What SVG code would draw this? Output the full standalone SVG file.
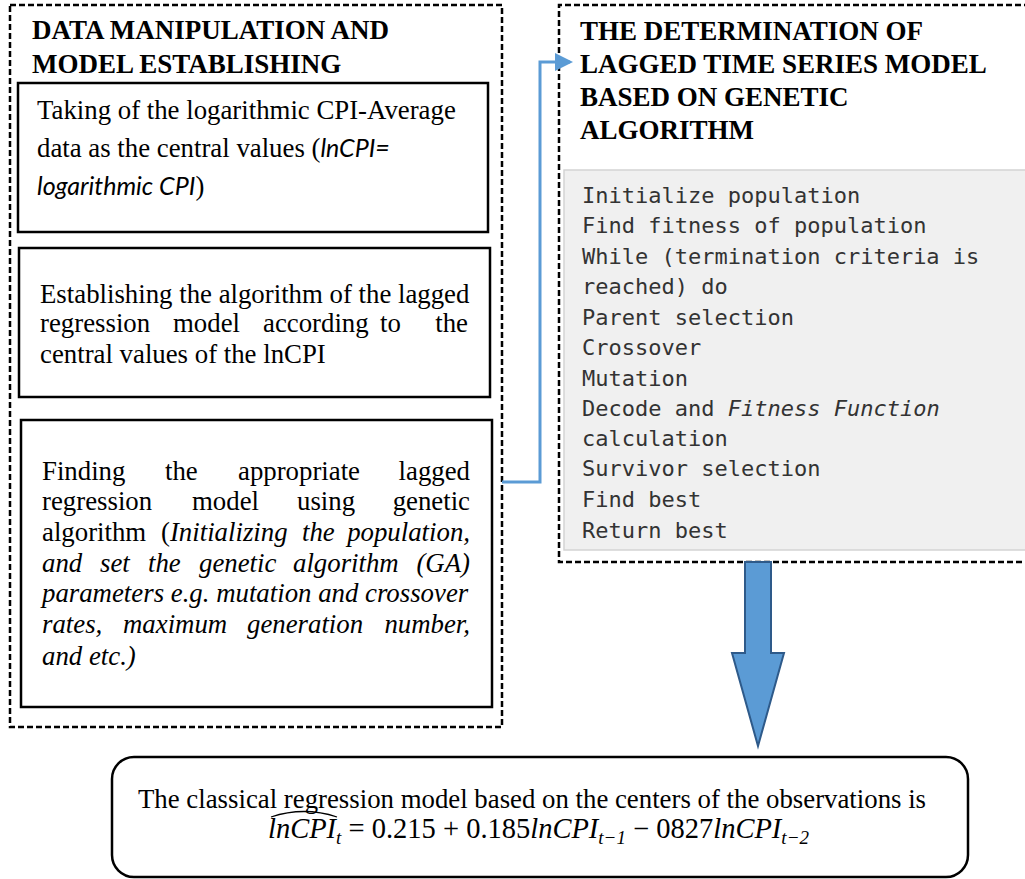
<svg xmlns="http://www.w3.org/2000/svg" width="1025" height="879" viewBox="0 0 1025 879">
<style>
.dash{fill:none;stroke:#000;stroke-width:2.5;stroke-dasharray:6 3}
.box{fill:#fff;stroke:#000;stroke-width:2.5}
.hd{font-family:"Liberation Serif",serif;font-weight:bold;font-size:27px;fill:#000}
.tx{font-family:"Liberation Serif",serif;font-size:26.8px;fill:#000}
.it{font-style:italic}
.sans{font-family:Lato,"Liberation Sans",sans-serif;font-style:italic;font-size:25px}
.code{font-family:"DejaVu Sans Mono",monospace;font-size:22px;fill:#333}
.eq{font-family:"Liberation Serif",serif;font-size:28.5px;fill:#000}
</style>
<defs>
<marker id="ah" markerWidth="6" markerHeight="6" refX="5" refY="3" orient="auto" markerUnits="strokeWidth">
<path d="M0,0 L6,3 L0,6 z" fill="#5b9bd5"/>
</marker>
</defs>
<rect width="1025" height="879" fill="#fff"/>

<g id="left-group">
<rect class="dash" x="10" y="5" width="492" height="722"/>
<text class="hd" x="32" y="39">DATA MANIPULATION AND</text>
<text class="hd" x="32" y="73">MODEL ESTABLISHING</text>
</g>

<g id="node-taking">
<rect class="box" x="18" y="83" width="470" height="149"/>
<text class="tx" x="37" y="119">Taking of the logarithmic CPI-Average</text>
<text class="tx" x="37" y="157">data as the central values (<tspan class="sans">lnCPI=</tspan></text>
<text class="tx" x="37" y="195"><tspan class="sans">logarithmic CPI</tspan>)</text>
</g>

<g id="node-establishing">
<rect class="box" x="19" y="248" width="471" height="149"/>
<text class="tx" x="40" y="303">Establishing the algorithm of the lagged</text>
<text class="tx" y="332"><tspan x="40">regression</tspan><tspan x="173">model</tspan><tspan x="263">according</tspan><tspan x="380">to</tspan></text>
<text class="tx" x="468" y="332" text-anchor="end">the</text>
<text class="tx" x="40" y="363">central values of the lnCPI</text>
</g>

<g id="node-finding">
<rect class="box" x="21" y="420" width="471" height="287"/>
<text class="tx" y="480"><tspan x="42">Finding</tspan><tspan x="165">the</tspan><tspan x="238">appropriate</tspan></text>
<text class="tx" x="470" y="480" text-anchor="end">lagged</text>
<text class="tx" y="510"><tspan x="42">regression</tspan><tspan x="192">model</tspan><tspan x="297">using</tspan></text>
<text class="tx" x="470" y="510" text-anchor="end">genetic</text>
<text class="tx" y="541"><tspan x="42">algorithm</tspan><tspan x="161">(</tspan><tspan class="it">Initializing</tspan><tspan class="it" x="302">the</tspan></text>
<text class="tx it" x="470" y="541" text-anchor="end">population,</text>
<text class="tx it" y="572"><tspan x="42">and</tspan><tspan x="100">set</tspan><tspan x="148">the</tspan><tspan x="199">genetic</tspan><tspan x="293">algorithm</tspan></text>
<text class="tx it" x="470" y="572" text-anchor="end">(GA)</text>
<text class="tx it" x="42" y="602">parameters e.g. mutation and crossover</text>
<text class="tx it" y="633"><tspan x="42">rates,</tspan><tspan x="123">maximum</tspan><tspan x="247">generation</tspan></text>
<text class="tx it" x="470" y="633" text-anchor="end">number,</text>
<text class="tx it" x="42" y="665">and etc.)</text>
</g>

<g id="right-group">
<path class="dash" d="M1030,5 H559 V562 H1030"/>
<text class="hd" x="580" y="40">THE DETERMINATION OF</text>
<text class="hd" x="580" y="73">LAGGED TIME SERIES MODEL</text>
<text class="hd" x="580" y="106">BASED ON GENETIC</text>
<text class="hd" x="580" y="139">ALGORITHM</text>
</g>

<g id="node-pseudocode">
<rect x="564" y="170" width="470" height="380" fill="#f0f0f0" stroke="#d4d4d4" stroke-width="1.5"/>
<text class="code" x="582" y="203">Initialize population</text>
<text class="code" x="582" y="233">Find fitness of population</text>
<text class="code" x="582" y="264">While (termination criteria is</text>
<text class="code" x="582" y="294">reached) do</text>
<text class="code" x="582" y="325">Parent selection</text>
<text class="code" x="582" y="355">Crossover</text>
<text class="code" x="582" y="386">Mutation</text>
<text class="code" x="582" y="416">Decode and <tspan font-style="italic">Fitness Function</tspan></text>
<text class="code" x="582" y="446">calculation</text>
<text class="code" x="582" y="476">Survivor selection</text>
<text class="code" x="582" y="507">Find best</text>
<text class="code" x="582" y="538">Return best</text>
</g>

<g id="node-result">
<rect x="112" y="757" width="856" height="120" rx="22" ry="22" fill="#fff" stroke="#000" stroke-width="2.5"/>
<text class="tx" x="138" y="808">The classical regression model based on the centers of the observations is</text>
<text class="eq" x="268" y="838"><tspan class="it">lnCPI</tspan><tspan class="it" font-size="19" dy="6">t</tspan><tspan dy="-6"> = 0.215 + 0.185</tspan><tspan class="it">lnCPI</tspan><tspan class="it" font-size="19" dy="6">t−1</tspan><tspan dy="-6"> − 0827</tspan><tspan class="it">lnCPI</tspan><tspan class="it" font-size="19" dy="6">t−2</tspan></text>
<path d="M271,817 Q304,806 337,817" fill="none" stroke="#000" stroke-width="1.3"/>
</g>

<g id="connectors">
<polyline points="502,482 540,482 540,62 570,62" fill="none" stroke="#5b9bd5" stroke-width="3" marker-end="url(#ah)"/>
<polygon points="745,562 771,562 771,653 784,653 758,746 732,653 745,653" fill="#5b9bd5" stroke="#2e5a8a" stroke-width="2"/>
</g>
</svg>
